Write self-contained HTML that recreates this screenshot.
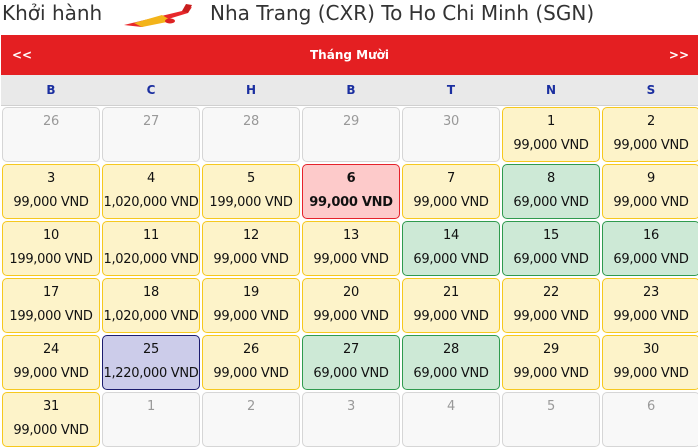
<!DOCTYPE html>
<html><head><meta charset="utf-8"><style>
body{margin:0;width:698px;height:448px;overflow:hidden;background:#fff;font-family:"DejaVu Sans","Liberation Sans",sans-serif;position:relative}
.t{position:absolute;top:1px;font-size:20px;color:#333;white-space:nowrap}
.bar{position:absolute;left:1px;top:35px;width:697px;height:40px;background:#e41f22;color:#fff;font-weight:bold;font-size:12px}
.hd{position:absolute;left:1px;top:75px;width:697px;height:30px;background:#e9e9e9;border-bottom:1px solid #d0d0d0}
.hd span{position:absolute;top:8px;width:100px;text-align:center;color:#1b2fa0;font-weight:bold;font-size:12px}
.g{position:absolute;left:2px;top:107px;display:grid;grid-template-columns:repeat(7,98px);grid-auto-rows:55px;gap:2px}
.c{box-sizing:border-box;border:1px solid #f6c81e;background:#fdf3c9;border-radius:5px;text-align:center;font-size:13px;color:#111;white-space:nowrap;letter-spacing:-0.3px;overflow:visible}
.c b{display:block;font-weight:normal;margin-top:6px;height:24px}
.o{background:#f8f8f8;border-color:#d6d6d6;color:#999}
.gr{background:#cde9d6;border-color:#2f9a4e}
.r{background:#fdcaca;border-color:#e5222a;font-weight:bold}
.r b{font-weight:bold}
.bl{background:#ccccea;border-color:#1c1c6e}
</style></head><body>
<div class="t" style="left:2px">Khởi hành</div>
<svg style="position:absolute;left:122px;top:3px" width="72" height="26" viewBox="0 0 72 26"><path d="M2 22 L60 8 L70 4 L66 10 L20 24 Z" fill="#e8282b"/><path d="M12 20 L40 12 L50 18 L20 24Z" fill="#f3b41a"/><path d="M60 8 L64 1 L70 2 L66 10Z" fill="#c81e1e"/><ellipse cx="48" cy="18" rx="5" ry="2.5" fill="#d22"/></svg>
<div class="t" style="left:210px">Nha Trang (CXR) To Ho Chi Minh (SGN)</div>
<div class="bar"><span style="position:absolute;left:11px;top:13px">&lt;&lt;</span><span style="position:absolute;left:0;width:697px;top:13px;text-align:center">Tháng Mười</span><span style="position:absolute;right:9px;top:13px">&gt;&gt;</span></div>
<div class="hd"><span style="left:0">B</span><span style="left:100px">C</span><span style="left:200px">H</span><span style="left:300px">B</span><span style="left:400px">T</span><span style="left:500px">N</span><span style="left:600px">S</span></div>
<div class="g">
<div class="c o"><b>26</b></div><div class="c o"><b>27</b></div><div class="c o"><b>28</b></div><div class="c o"><b>29</b></div><div class="c o"><b>30</b></div><div class="c"><b>1</b>99,000 VND</div><div class="c"><b>2</b>99,000 VND</div>
<div class="c"><b>3</b>99,000 VND</div><div class="c"><b>4</b>1,020,000 VND</div><div class="c"><b>5</b>199,000 VND</div><div class="c r"><b>6</b>99,000 VND</div><div class="c"><b>7</b>99,000 VND</div><div class="c gr"><b>8</b>69,000 VND</div><div class="c"><b>9</b>99,000 VND</div>
<div class="c"><b>10</b>199,000 VND</div><div class="c"><b>11</b>1,020,000 VND</div><div class="c"><b>12</b>99,000 VND</div><div class="c"><b>13</b>99,000 VND</div><div class="c gr"><b>14</b>69,000 VND</div><div class="c gr"><b>15</b>69,000 VND</div><div class="c gr"><b>16</b>69,000 VND</div>
<div class="c"><b>17</b>199,000 VND</div><div class="c"><b>18</b>1,020,000 VND</div><div class="c"><b>19</b>99,000 VND</div><div class="c"><b>20</b>99,000 VND</div><div class="c"><b>21</b>99,000 VND</div><div class="c"><b>22</b>99,000 VND</div><div class="c"><b>23</b>99,000 VND</div>
<div class="c"><b>24</b>99,000 VND</div><div class="c bl"><b>25</b>1,220,000 VND</div><div class="c"><b>26</b>99,000 VND</div><div class="c gr"><b>27</b>69,000 VND</div><div class="c gr"><b>28</b>69,000 VND</div><div class="c"><b>29</b>99,000 VND</div><div class="c"><b>30</b>99,000 VND</div>
<div class="c"><b>31</b>99,000 VND</div><div class="c o"><b>1</b></div><div class="c o"><b>2</b></div><div class="c o"><b>3</b></div><div class="c o"><b>4</b></div><div class="c o"><b>5</b></div><div class="c o"><b>6</b></div>
</div>
</body></html>
